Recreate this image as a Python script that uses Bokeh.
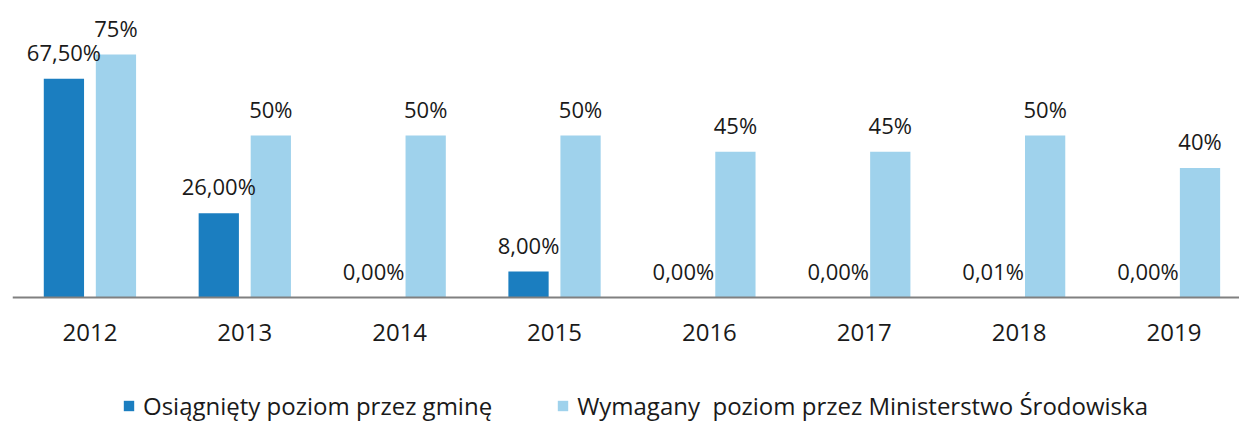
from bokeh.plotting import figure
from bokeh.models import (ColumnDataSource, Range1d, FixedTicker, Legend, LegendItem,
                          LinearAxis)
from bokeh.core.properties import value
from bokeh.embed import file_html
from bokeh.resources import INLINE

years = ["2012", "2013", "2014", "2015", "2016", "2017", "2018", "2019"]
achieved = [67.5, 26.0, 0.0, 8.0, 0.0, 0.0, 0.01, 0.0]
required = [75, 50, 50, 50, 45, 45, 50, 40]
series_names = ["Osiągnięty poziom przez gminę",
                "Wymagany  poziom przez Ministerstwo Środowiska"]

DARK = "#1b7ec0"
LIGHT = "#9fd2ec"
FONT = "Open Sans"
TXT = "#1a1a1a"

x = list(range(len(years)))
off = 0.168
bw = 0.26

src_a = ColumnDataSource(dict(
    x=[i - off for i in x], top=achieved,
    lab=[("%.2f%%" % v).replace(".", ",") for v in achieved]))
src_r = ColumnDataSource(dict(
    x=[i + off for i in x], top=required,
    lab=["%d%%" % v for v in required]))

p = figure(width=1239, height=426, output_backend="svg", toolbar_location=None,
           x_range=Range1d(-0.5, 7.423), y_range=Range1d(-39.8, 91.67),
           x_axis_location=None, y_axis_location=None,
           min_border_left=12, min_border_right=0, min_border_top=0, min_border_bottom=0)
p.outline_line_color = None
p.xgrid.grid_line_color = None
p.ygrid.grid_line_color = None

ra = p.vbar(x="x", top="top", width=bw, source=src_a, fill_color=DARK, line_color=None)
rr = p.vbar(x="x", top="top", width=bw, source=src_r, fill_color=LIGHT, line_color=None)

for s in (src_a, src_r):
    p.text(x="x", y="top", text="lab", source=s, text_align="center",
           text_baseline="alphabetic", y_offset=-27, text_font=value(FONT),
           text_font_size="22px", text_color=TXT)

ax = LinearAxis(fixed_location=0)
ax.ticker = FixedTicker(ticks=x)
ax.major_label_overrides = {i: y for i, y in enumerate(years)}
ax.axis_line_color = "#808080"
ax.axis_line_width = 2
ax.major_tick_line_color = None
ax.minor_tick_line_color = None
ax.major_label_standoff = 20
ax.major_label_text_font = FONT
ax.major_label_text_font_size = "24px"
ax.major_label_text_color = TXT
p.add_layout(ax, "below")

legend = Legend(items=[LegendItem(label=series_names[0], renderers=[ra]),
                       LegendItem(label=series_names[1], renderers=[rr])],
                orientation="horizontal", location=(110, 4),
                label_text_font=FONT, label_text_font_size="24px",
                label_text_color=TXT, glyph_width=13, glyph_height=13,
                spacing=64, label_standoff=8, border_line_color=None,
                margin=0, padding=0, background_fill_alpha=0)
p.add_layout(legend)

open("out.html", "w").write(file_html(p, INLINE))
